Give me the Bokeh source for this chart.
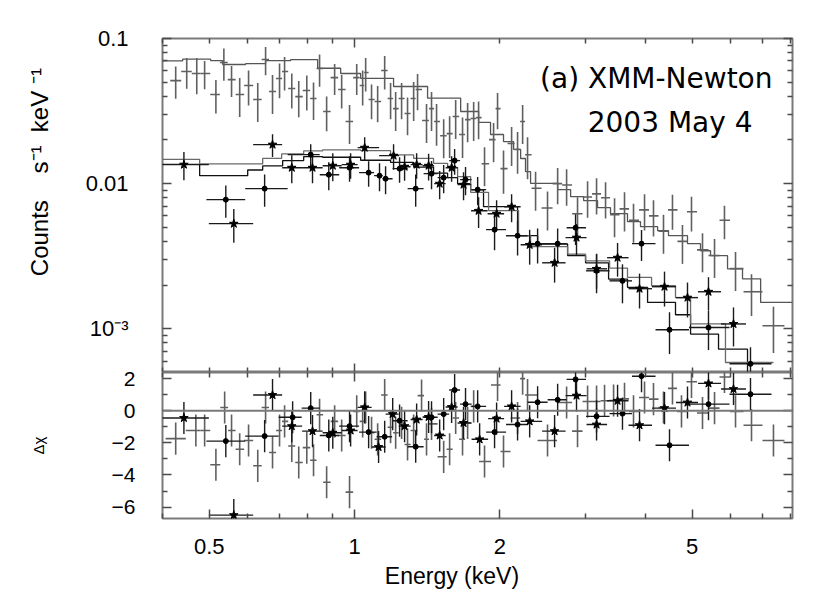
import numpy as np
from bokeh.plotting import figure
from bokeh.models import (Range1d, FixedTicker, LinearAxis, LogAxis, Label, Span,
                          CustomJSTickFormatter)
from bokeh.layouts import column
from bokeh.embed import file_html
from bokeh.resources import INLINE

# ---------------- data ----------------
# EPIC-pn spectrum (plain crosses)
pn_E = [0.426, 0.449, 0.471, 0.489, 0.516, 0.536, 0.556, 0.578, 0.603, 0.630,
        0.654, 0.676, 0.699, 0.716, 0.741, 0.766, 0.796, 0.822, 0.846, 0.875,
        0.909, 0.940, 0.976, 1.010, 1.039, 1.054, 1.084, 1.116, 1.154, 1.187,
        1.216, 1.251, 1.287, 1.325, 1.350, 1.409, 1.443, 1.478, 1.529, 1.573,
        1.619, 1.673, 1.714, 1.764, 1.806, 1.858, 1.940, 1.977, 2.034, 2.114,
        2.175, 2.228, 2.281, 2.370, 2.509, 2.633, 2.748, 2.895, 3.037, 3.170,
        3.309, 3.454, 3.622, 3.781, 3.985, 4.159, 4.362, 4.553, 4.775, 4.985,
        5.254, 5.564, 5.834, 6.150, 6.637, 7.370]
pn_rate = [0.0513, 0.0592, 0.0574, 0.0574, 0.0411, 0.0683, 0.0521, 0.0411, 0.0474, 0.0380,
           0.0716, 0.0431, 0.0530, 0.0592, 0.0452, 0.0398, 0.0438, 0.0386, 0.0621, 0.0314,
           0.0538, 0.0445, 0.0268, 0.0538, 0.0474, 0.0583, 0.0380, 0.0368, 0.0602, 0.0386,
           0.0329, 0.0386, 0.0304, 0.0386, 0.0445, 0.0272, 0.0329, 0.0268, 0.0214, 0.0221,
           0.0290, 0.0218, 0.0276, 0.0281, 0.0285, 0.0137, 0.0201, 0.0329, 0.0127, 0.0189,
           0.0172, 0.0268, 0.0158, 0.0093, 0.0068, 0.0100, 0.0098, 0.0062, 0.0081, 0.0085,
           0.0080, 0.0061, 0.0067, 0.0056, 0.0066, 0.0060, 0.0047, 0.0066, 0.0040, 0.0064,
           0.0035, 0.0032, 0.0056, 0.0026, 0.0018, 0.00105]
pn_relerr = [0.25, 0.24, 0.28, 0.22, 0.26, 0.25, 0.24, 0.30, 0.27, 0.30,
             0.22, 0.30, 0.27, 0.26, 0.27, 0.28, 0.27, 0.29, 0.25, 0.27,
             0.24, 0.26, 0.30, 0.24, 0.27, 0.26, 0.27, 0.28, 0.26, 0.28,
             0.30, 0.28, 0.29, 0.30, 0.28, 0.30, 0.30, 0.32, 0.30, 0.32,
             0.30, 0.31, 0.30, 0.30, 0.29, 0.30, 0.30, 0.28, 0.33, 0.30,
             0.32, 0.30, 0.32, 0.30, 0.30, 0.28, 0.28, 0.30, 0.28, 0.28,
             0.28, 0.30, 0.30, 0.30, 0.28, 0.28, 0.30, 0.27, 0.30, 0.27,
             0.30, 0.30, 0.26, 0.30, 0.32, 0.35]

# MOS1 spectrum (dots)
mos1_E = [0.541, 0.651, 0.811, 0.884, 0.976, 1.069, 1.126, 1.159, 1.239, 1.338,
          1.443, 1.529, 1.611, 1.697, 1.798, 1.949, 2.175, 2.393, 2.633, 2.868,
          3.170, 3.587, 3.928, 4.489, 5.406, 6.605]
mos1_rate = [0.00776, 0.00924, 0.01585, 0.01153, 0.01288, 0.01191, 0.01135, 0.01082, 0.01269, 0.00924,
             0.01172, 0.01100, 0.01442, 0.01066, 0.00910, 0.00482, 0.00438, 0.00386, 0.00386, 0.00497,
             0.00251, 0.00214, 0.00386, 0.000985, 0.00102, 0.000574]
mos1_relerr = [0.25, 0.25, 0.18, 0.22, 0.20, 0.20, 0.22, 0.22, 0.20, 0.25,
               0.22, 0.22, 0.20, 0.22, 0.22, 0.28, 0.27, 0.27, 0.27, 0.24,
               0.30, 0.30, 0.24, 0.32, 0.30, 0.30]

# MOS2 spectrum (stars)
mos2_E = [0.443, 0.562, 0.676, 0.741, 0.818, 0.901, 0.981, 1.049, 1.204, 1.269,
          1.344, 1.423, 1.500, 1.588, 1.681, 1.806, 1.968, 2.114, 2.304, 2.595,
          2.881, 3.170, 3.504, 3.891, 4.383, 4.891, 5.406, 6.091]
mos2_rate = [0.01352, 0.00530, 0.01858, 0.01288, 0.01288, 0.01330, 0.01352, 0.01770, 0.01560, 0.01309,
             0.01352, 0.01330, 0.01000, 0.01288, 0.00984, 0.00650, 0.00621, 0.00694, 0.00379, 0.00285,
             0.00425, 0.00259, 0.00309, 0.00189, 0.00195, 0.00164, 0.00180, 0.00108]
mos2_relerr = [0.22, 0.26, 0.18, 0.22, 0.22, 0.22, 0.20, 0.18, 0.20, 0.20,
               0.20, 0.21, 0.22, 0.20, 0.22, 0.24, 0.24, 0.22, 0.27, 0.27,
               0.24, 0.27, 0.26, 0.27, 0.27, 0.27, 0.26, 0.30]

# folded models (step functions on bin edges)
pn_model_edges = [0.400, 0.4404, 0.5032, 0.5330, 0.5947, 0.654, 0.7370, 0.8384, 0.9355, 1.029,
                  1.204, 1.416, 1.658, 1.806, 1.912, 2.034, 2.134, 2.207, 2.259, 2.314,
                  2.633, 2.801, 2.980, 3.185, 3.388, 3.674, 3.909, 4.241, 4.467, 4.891,
                  5.204, 5.459, 5.920, 6.358, 6.932, 8.07]
pn_model = [0.0702, 0.0720, 0.0705, 0.0662, 0.0672, 0.0705, 0.0716, 0.0624, 0.0574, 0.0532,
            0.0467, 0.0388, 0.0314, 0.0264, 0.0218, 0.0195, 0.0172, 0.0149, 0.0121, 0.01005,
            0.0091, 0.00813, 0.00764, 0.00683, 0.00621, 0.00547, 0.00505, 0.00474, 0.00438, 0.00386,
            0.00345, 0.00319, 0.00259, 0.00221, 0.00152]

mos1_model_edges = [0.400, 0.4775, 0.6005, 0.6450, 0.7094, 0.7843, 0.8586, 1.029, 1.187, 1.325,
                    1.457, 1.558, 1.634, 1.739, 1.849, 2.175, 2.393, 2.761, 3.008, 3.357,
                    3.674, 4.043, 4.619, 4.963, 5.671, 6.512, 7.370]
mos1_model = [0.01359, 0.01135, 0.01242, 0.01324, 0.01442, 0.01536, 0.0152, 0.0145, 0.0140, 0.0130,
              0.0118, 0.0110, 0.0100, 0.00906, 0.00694, 0.00438, 0.00384, 0.00320, 0.00285, 0.00220,
              0.00193, 0.00152, 0.00125, 0.00092, 0.000724, 0.0004]

mos2_model_edges = [0.400, 0.4775, 0.6450, 0.7060, 0.7843, 0.8586, 1.029, 1.187, 1.325, 1.457,
                    1.558, 1.634, 1.739, 1.894, 2.185, 2.314, 2.761, 3.008, 3.373, 3.674,
                    4.121, 4.619, 4.963, 5.862, 7.370]
mos2_model = [0.01471, 0.01367, 0.01493, 0.01603, 0.01682, 0.01708, 0.0169, 0.01578, 0.01493, 0.0138,
              0.01295, 0.01117, 0.00871, 0.00652, 0.00438, 0.00368, 0.00327, 0.00294, 0.00262, 0.00226,
              0.00198, 0.00164, 0.00108, 0.000586]

# residuals (delta chi)
pn_res_E = [0.426, 0.469, 0.489, 0.516, 0.538, 0.556, 0.578, 0.603, 0.630, 0.654,
            0.676, 0.699, 0.716, 0.741, 0.766, 0.796, 0.822, 0.846, 0.875, 0.909,
            0.940, 0.976, 1.010, 1.039, 1.054, 1.084, 1.116, 1.154, 1.187, 1.216,
            1.251, 1.287, 1.325, 1.376, 1.409, 1.443, 1.529, 1.573, 1.619, 1.673,
            1.714, 1.764, 1.858, 1.977, 2.034, 2.175, 2.228, 2.281, 2.509, 2.748,
            2.895, 3.037, 3.170, 3.293, 3.438, 3.622, 3.781, 3.985, 4.159, 4.362,
            4.553, 4.753, 4.985, 5.254, 5.564, 5.834, 6.150, 6.637, 7.370]
pn_res = [-1.74, -1.23, -1.23, -3.36, 0.20, -1.23, -2.40, -1.85, -3.43, 0.20,
          -2.60, -1.23, -0.66, -2.20, -3.22, -2.30, -3.08, -0.25, -4.45, -0.66,
          -1.54, -5.07, -0.04, -0.66, 0.20, -1.37, -1.78, 0.98, -1.03, -1.37,
          -0.76, -2.10, -1.23, 0.94, -1.78, -0.82, -2.87, -2.40, -0.45, -1.78,
          -0.76, 0.27, -3.16, 1.60, -2.54, -0.45, 2.00, 0.98, -1.85, 0.51,
          -1.27, 0.57, 0.57, 0.62, 0.64, 0.74, -0.04, 0.82, 0.72, 0.20,
          1.39, -0.04, 1.80, -0.14, 0.16, 2.10, -0.04, -0.90, -1.85]

mos1_res_E = [0.541, 0.651, 0.744, 0.811, 0.884, 0.976, 1.069, 1.154, 1.239, 1.338,
              1.443, 1.529, 1.611, 1.697, 1.798, 1.949, 2.175, 2.393, 2.633, 2.868,
              3.170, 3.587, 3.928, 4.489, 5.406, 6.605]
mos1_res = [-1.89, -1.58, -0.41, 0.16, -1.54, -0.96, -1.33, -1.62, -0.62, -2.24,
            -0.41, -0.21, 1.29, 0.41, 0.27, -1.33, -0.86, 0.53, 0.68, 1.95,
            -0.35, -0.18, 2.15, -2.15, 0.41, 1.03]

mos2_res_E = [0.443, 0.562, 0.676, 0.741, 0.818, 0.901, 0.981, 1.049, 1.121, 1.199,
              1.269, 1.344, 1.423, 1.500, 1.588, 1.681, 1.815, 1.968, 2.114, 2.304,
              2.595, 2.881, 3.170, 3.504, 3.891, 4.383, 4.891, 5.406, 6.091]
mos2_res = [-0.45, -6.50, 0.98, -0.96, -1.27, -1.37, -1.23, 0.21, -2.26, -0.21,
            -0.96, -0.55, -0.39, -1.54, 0.23, -0.76, -1.78, -0.49, 0.27, -0.66,
            -1.27, 0.94, -0.86, 0.62, -0.90, 0.16, 0.51, 1.70, 1.35]

# axis ticks
x_major = [0.5, 1, 2, 5]
x_minor = [0.4, 0.6, 0.7, 0.8, 0.9, 3, 4, 6, 7, 8]
x_frame_major = [1]
x_frame_minor = [0.4, 0.5, 0.6, 0.7, 0.8, 0.9, 2, 3, 4, 5, 6, 7, 8]
y_top_major = [0.001, 0.01, 0.1]
y_top_minor = [5e-4, 6e-4, 7e-4, 8e-4, 9e-4,
               0.002, 0.003, 0.004, 0.005, 0.006, 0.007, 0.008, 0.009,
               0.02, 0.03, 0.04, 0.05, 0.06, 0.07, 0.08, 0.09]
y_res_major = [-6, -4, -2, 0, 2]
y_res_minor = [-5, -3, -1, 1]

NB = "\u00a0"
y_label_top = NB * 10 + "Counts" + NB * 4 + "s\u207b\u00b9" + NB * 2 + "keV" + NB + "\u207b\u00b9"
y_label_bot = "\u0394\u03c7"
x_label = "Energy (keV)" + NB * 8

# ---------------- helpers ----------------
def bin_bounds(E):
    lg = np.log10(np.asarray(E, float))
    mid = (lg[1:] + lg[:-1]) / 2
    lo = np.concatenate([[2 * lg[0] - mid[0]], mid])
    hi = np.concatenate([mid, [2 * lg[-1] - mid[-1]]])
    return 10 ** lo, 10 ** hi

FRAME_COL = "#7a7a7a"
TICK_COL = "#4a4a4a"
TICK_FONT = "Liberation Sans"

def blank():
    return CustomJSTickFormatter(code="return '';")

def style_axis(ax, labelled, size="22px", standoff=0):
    ax.axis_line_color = None
    ax.major_tick_in = 9
    ax.major_tick_out = 0
    ax.minor_tick_in = 5
    ax.minor_tick_out = 0
    ax.major_tick_line_color = TICK_COL
    ax.minor_tick_line_color = TICK_COL
    ax.major_tick_line_width = 1.5
    ax.minor_tick_line_width = 1.5
    ax.axis_label_text_font = TICK_FONT
    ax.axis_label_text_font_style = "normal"
    ax.axis_label_text_color = "black"
    if labelled:
        ax.major_label_text_font = TICK_FONT
        ax.major_label_text_font_size = size
        ax.major_label_text_color = "black"
        ax.major_label_standoff = standoff
    else:
        ax.formatter = blank()
        ax.major_label_text_font_size = "0px"
        ax.major_label_standoff = 0

x_rng = Range1d(0.4, 8.07)

# ---------------- top panel ----------------
top = figure(x_axis_type="log", y_axis_type="log", x_range=x_rng,
             y_range=Range1d(5e-4, 0.1),
             frame_width=630, frame_height=334,
             min_border_left=162, min_border_right=30, min_border_top=38, min_border_bottom=0,
             x_axis_location=None, y_axis_location=None,
             output_backend="svg", toolbar_location=None)
top.grid.visible = False
top.outline_line_color = FRAME_COL
top.outline_line_width = 2
top.background_fill_color = "white"
top.border_fill_color = "white"

xt_top = FixedTicker(ticks=x_frame_major, minor_ticks=x_frame_minor)
for loc in ("above", "below"):
    ax = LogAxis(ticker=xt_top)
    style_axis(ax, False)
    top.add_layout(ax, loc)
yt_top = FixedTicker(ticks=y_top_major, minor_ticks=y_top_minor)
ax = LogAxis(ticker=yt_top,
             formatter=CustomJSTickFormatter(code="if (tick < 0.005) { return '10\u207b\u00b3'; } return tick.toString();"))
style_axis(ax, True, "22px", 34)
ax.axis_label = y_label_top
ax.axis_label_text_font_size = "24px"
ax.axis_label_standoff = 30
top.add_layout(ax, "left")
ax = LogAxis(ticker=yt_top)
style_axis(ax, False)
top.add_layout(ax, "right")

def draw_model(p, edges, vals, color):
    p.step(x=list(edges), y=list(vals) + [vals[-1]], mode="after",
           line_color=color, line_width=1.3)

draw_model(top, pn_model_edges, pn_model, "#555555")
draw_model(top, mos1_model_edges, mos1_model, "#111111")
draw_model(top, mos2_model_edges, mos2_model, "#6a6a6a")

def draw_spec(p, E, rate, rel, color, width):
    E = np.asarray(E); r = np.asarray(rate); e = np.asarray(rel) * r
    lo, hi = bin_bounds(E)
    p.segment(x0=lo, y0=r, x1=hi, y1=r, line_color=color, line_width=width)
    p.segment(x0=E, y0=r - e, x1=E, y1=r + e, line_color=color, line_width=width)

draw_spec(top, pn_E, pn_rate, pn_relerr, "#606060", 1.6)
draw_spec(top, mos1_E, mos1_rate, mos1_relerr, "#1a1a1a", 1.4)
draw_spec(top, mos2_E, mos2_rate, mos2_relerr, "#1a1a1a", 1.4)
top.scatter(mos1_E, mos1_rate, marker="circle", size=5, color="black")
top.scatter(mos2_E, mos2_rate, marker="star", size=9, color="black")

top.add_layout(Label(x=610, y=294, x_units="screen", y_units="screen",
                     text="(a) XMM-Newton", text_align="right", text_baseline="middle",
                     text_font="DejaVu Sans", text_font_size="28px", text_color="black"))
top.add_layout(Label(x=590, y=250, x_units="screen", y_units="screen",
                     text="2003 May 4", text_align="right", text_baseline="middle",
                     text_font="DejaVu Sans", text_font_size="28px", text_color="black"))

# ---------------- residual panel ----------------
OVER = 12
bot = figure(x_axis_type="log", x_range=x_rng, y_range=Range1d(-6.71, 2.38),
             frame_width=630, frame_height=146,
             min_border_left=162, min_border_right=30, min_border_top=OVER, min_border_bottom=80,
             x_axis_location=None, y_axis_location=None,
             output_backend="svg", toolbar_location=None)
bot.styles = {"margin-top": f"-{OVER}px"}
bot.grid.visible = False
bot.outline_line_color = FRAME_COL
bot.outline_line_width = 2
bot.background_fill_color = "white"
bot.border_fill_color = None

xt_bot = FixedTicker(ticks=x_major, minor_ticks=x_minor)
ax = LogAxis(ticker=xt_bot, formatter=CustomJSTickFormatter(code="return tick.toString();"))
style_axis(ax, True, "22px", 20)
ax.axis_label = x_label
ax.axis_label_text_font_size = "23px"
ax.axis_label_standoff = 6
bot.add_layout(ax, "below")
ax = LogAxis(ticker=xt_top)
style_axis(ax, False)
bot.add_layout(ax, "above")
yt_bot = FixedTicker(ticks=y_res_major, minor_ticks=y_res_minor)
ax = LinearAxis(ticker=yt_bot, formatter=CustomJSTickFormatter(
    code="return (tick < 0 ? '\u2212' : '') + Math.abs(tick).toString();"))
style_axis(ax, True, "21px", 27)
ax.axis_label = y_label_bot
ax.axis_label_text_font_size = "15px"
ax.axis_label_standoff = 62
bot.add_layout(ax, "left")
ax = LinearAxis(ticker=yt_bot)
style_axis(ax, False)
bot.add_layout(ax, "right")

bot.add_layout(Span(location=0, dimension="width", line_color=FRAME_COL, line_width=2))

def draw_res(p, E, res, color, width):
    E = np.asarray(E); r = np.asarray(res)
    lo, hi = bin_bounds(E)
    p.segment(x0=lo, y0=r, x1=hi, y1=r, line_color=color, line_width=width)
    p.segment(x0=E, y0=r - 1, x1=E, y1=r + 1, line_color=color, line_width=width)

draw_res(bot, pn_res_E, pn_res, "#606060", 1.6)
draw_res(bot, mos1_res_E, mos1_res, "#1a1a1a", 1.4)
draw_res(bot, mos2_res_E, mos2_res, "#1a1a1a", 1.4)
bot.scatter(mos1_res_E, mos1_res, marker="circle", size=5, color="black")
bot.scatter(mos2_res_E, mos2_res, marker="star", size=9, color="black")

layout = column(top, bot, spacing=0)
open("out.html", "w").write(file_html(layout, INLINE))
